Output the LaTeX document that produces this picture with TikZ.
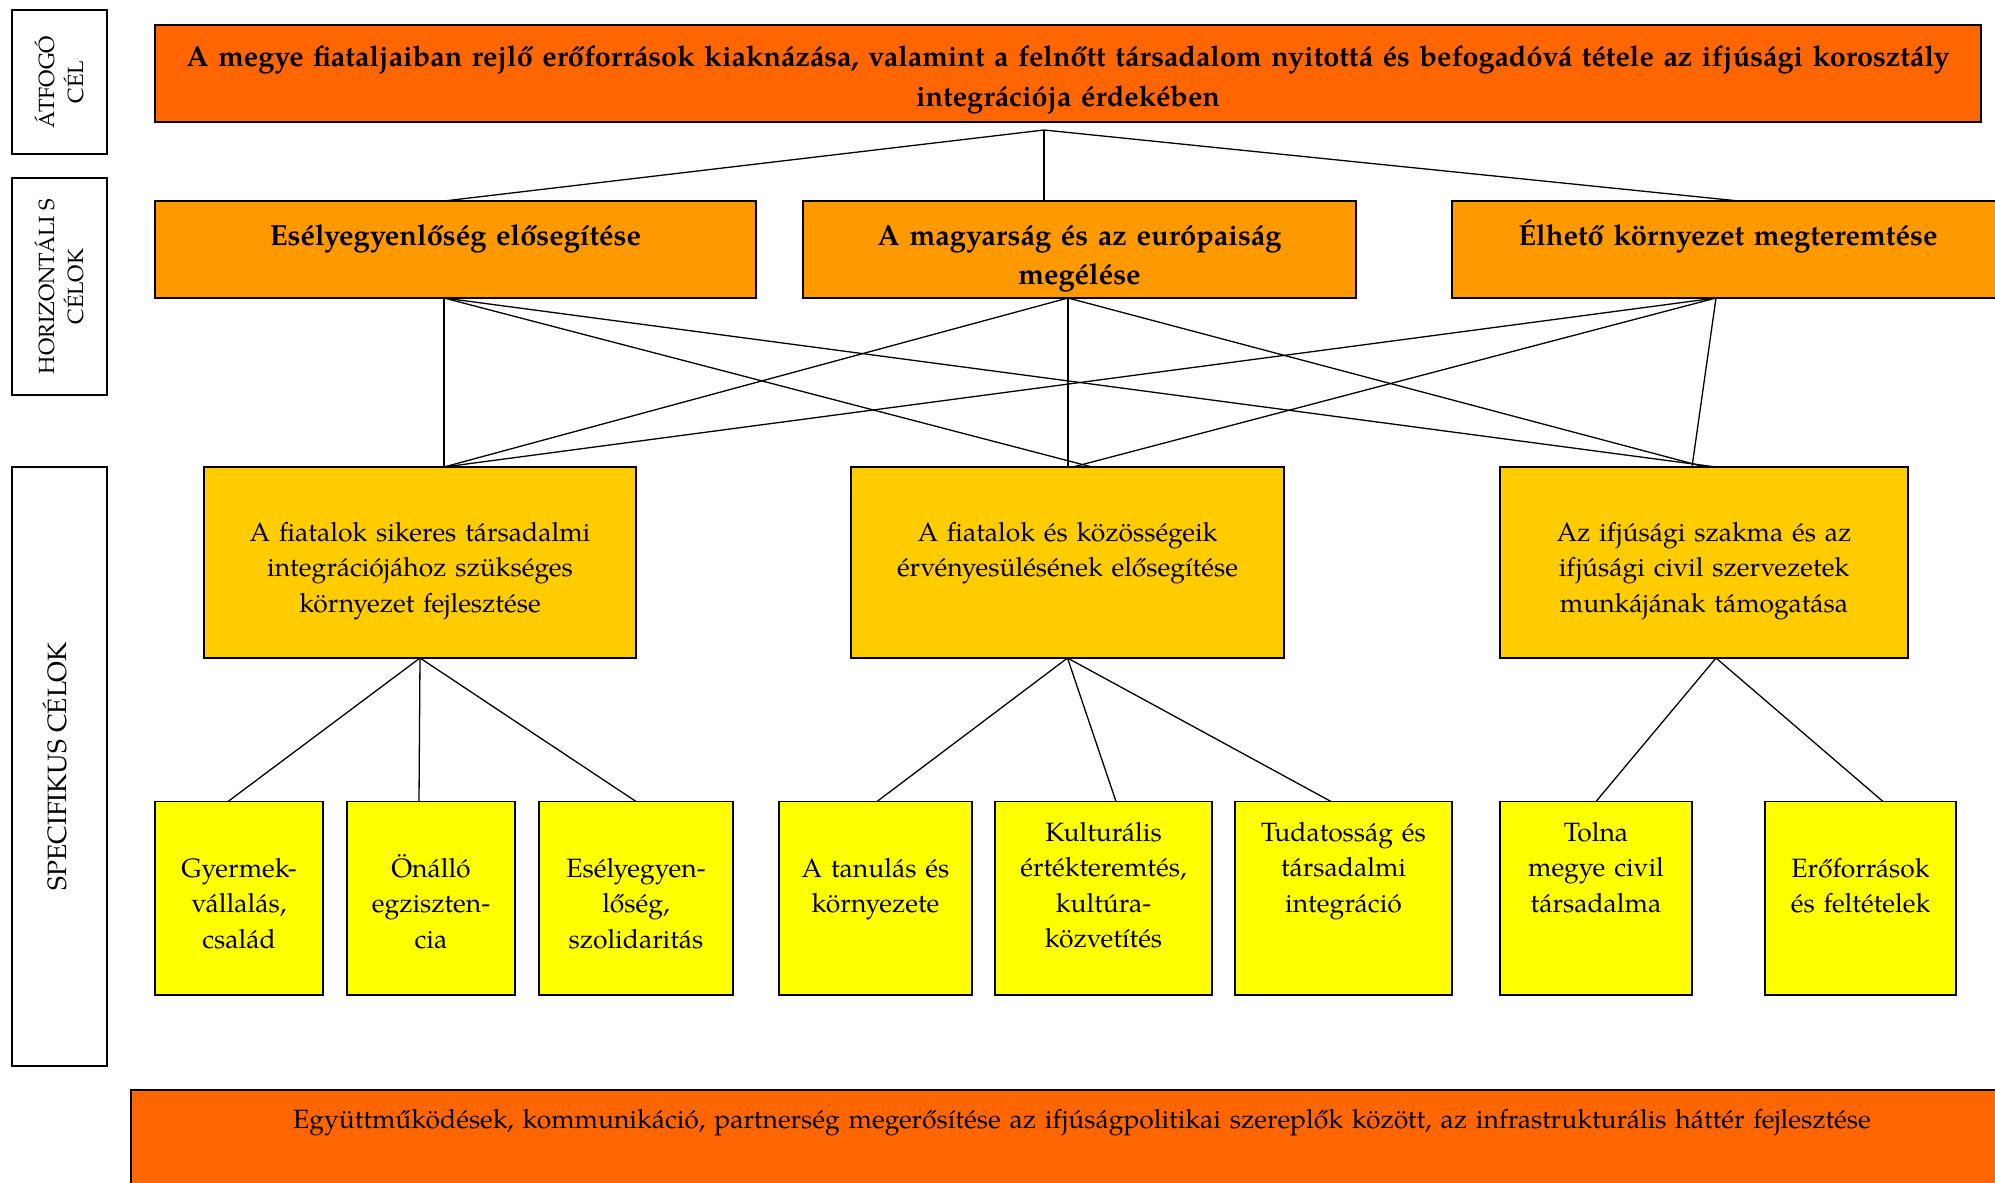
\documentclass[tikz,border=0pt]{standalone}
\usepackage{fontspec}
\setmainfont{TeX Gyre Pagella}
\definecolor{cT}{HTML}{FF6600}
\definecolor{cH}{HTML}{FF9900}
\definecolor{cM}{HTML}{FFCC00}
\definecolor{cS}{HTML}{FFFF00}
\begin{document}
\begin{tikzpicture}[x=1pt,y=-1pt,
  every node/.style={inner sep=0pt,outer sep=0pt},
  box/.style={draw=black,line width=1.8pt,rectangle,anchor=north west},
  lab/.style={draw=black,line width=1.6pt,rectangle,anchor=north west,fill=white},
  conn/.style={draw=black,line width=1.3pt},
  rtxt/.style={anchor=base,align=center,text width=#1,font=\fontsize{26.5}{35.5}\selectfont},
  btxt/.style={anchor=base,align=center,text width=#1,font=\bfseries\fontsize{29}{39}\selectfont},
  vtxt/.style={rotate=90,align=center,font=\fontsize{22}{29}\selectfont}]
\path[use as bounding box,clip] (0,0) rectangle (1995,1183);
\fill[white] (0,0) rectangle (1995,1183);

% side labels
\node[lab,minimum width=95pt,minimum height=144pt] (L1) at (12,10) {};
\node[vtxt] (tL1) at (L1.center) {ÁTFOGÓ\\CÉL};
\node[lab,minimum width=95pt,minimum height=217pt] (L2) at (12,178) {};
\node[vtxt] (tL2) at (L2.center) {HORIZONTÁLI S\\CÉLOK};
\node[lab,minimum width=95pt,minimum height=599pt] (L3) at (12,467) {};
\node[vtxt,font=\fontsize{26.5}{30}\selectfont] (tL3) at ([xshift=-5pt]L3.center) {SPECIFIKUS CÉLOK};

% top goal
\node[box,fill=cT,minimum width=1826pt,minimum height=97pt] (T) at (155,25) {};
\node[btxt=1950pt,font=\bfseries\fontsize{28.8}{40}\selectfont] (tT) at (1068,66) {A megye fiataljaiban rejlő erőforrások kiaknázása, valamint a felnőtt társadalom nyitottá és befogadóvá tétele az ifjúsági korosztály\\integrációja érdekében};

% horizontal goals
\node[box,fill=cH,minimum width=601pt,minimum height=97pt] (H1) at (155,201) {};
\node[box,fill=cH,minimum width=553pt,minimum height=97pt] (H2) at (803,201) {};
\node[box,fill=cH,minimum width=552pt,minimum height=97pt] (H3) at (1452,201) {};
\node[btxt=640pt] (tH1) at (455.5,245) {Esélyegyenlőség elősegítése};
\node[btxt=640pt] (tH2) at (1079.5,245) {A magyarság és az európaiság\\megélése};
\node[btxt=640pt] (tH3) at (1728,245) {Élhető környezet megteremtése};

% specific goals
\node[box,fill=cM,minimum width=432pt,minimum height=191pt] (A) at (204,467) {};
\node[box,fill=cM,minimum width=433pt,minimum height=191pt] (B) at (851,467) {};
\node[box,fill=cM,minimum width=408pt,minimum height=191pt] (C) at (1500,467) {};
\node[rtxt=480pt] (tA) at (420,541) {A fiatalok sikeres társadalmi\\integrációjához szükséges\\környezet fejlesztése};
\node[rtxt=480pt] (tB) at (1067.5,541) {A fiatalok és közösségeik\\érvényesülésének elősegítése};
\node[rtxt=480pt] (tC) at (1704,541) {Az ifjúsági szakma és az\\ifjúsági civil szervezetek\\munkájának támogatása};

% small boxes
\node[box,fill=cS,minimum width=168pt,minimum height=193.5pt] (s1) at (155,801.5) {};
\node[box,fill=cS,minimum width=168pt,minimum height=193.5pt] (s2) at (347,801.5) {};
\node[box,fill=cS,minimum width=194pt,minimum height=193.5pt] (s3) at (539,801.5) {};
\node[box,fill=cS,minimum width=193pt,minimum height=193.5pt] (s4) at (779,801.5) {};
\node[box,fill=cS,minimum width=217pt,minimum height=193.5pt] (s5) at (995,801.5) {};
\node[box,fill=cS,minimum width=217pt,minimum height=193.5pt] (s6) at (1235,801.5) {};
\node[box,fill=cS,minimum width=192pt,minimum height=193.5pt] (s7) at (1500,801.5) {};
\node[box,fill=cS,minimum width=191pt,minimum height=193.5pt] (s8) at (1765,801.5) {};
\node[rtxt=260pt] (ts1) at (239,877) {Gyermek-\\vállalás,\\család};
\node[rtxt=260pt] (ts2) at (431,877) {Önálló\\egziszten-\\cia};
\node[rtxt=260pt] (ts3) at (636,877) {Esélyegyen-\\lőség,\\szolidaritás};
\node[rtxt=260pt] (ts4) at (875.5,877) {A tanulás és\\környezete};
\node[rtxt=260pt] (ts5) at (1103.5,841) {Kulturális\\értékteremtés,\\kultúra-\\közvetítés};
\node[rtxt=260pt] (ts6) at (1343.5,841) {Tudatosság és\\társadalmi\\integráció};
\node[rtxt=260pt] (ts7) at (1596,841) {Tolna\\megye civil\\társadalma};
\node[rtxt=260pt] (ts8) at (1860.5,877) {Erőforrások\\és feltételek};

% bottom bar
\node[box,fill=cT,minimum width=1899pt,minimum height=120pt] (Bot) at (131,1090) {};
\node[rtxt=1880pt] (tBot) at (1082,1128) {Együttműködések, kommunikáció, partnerség megerősítése az ifjúságpolitikai szereplők között, az infrastrukturális háttér fejlesztése};

% connectors: top goal to horizontal goals
\coordinate (J) at (1044,130);
\draw[conn] ([xshift=-11.5pt]H1.north) -- (J) -- ([xshift=11pt]H3.north);
\draw[conn] (J) -- ([xshift=-35.5pt]H2.north);

% horizontal goals to specific goals
\draw[conn] ([xshift=-11.5pt]H1.south) -- ([xshift=24pt]A.north);
\draw[conn] ([xshift=-11.5pt]H1.south) -- ([xshift=24.5pt]B.north);
\draw[conn] ([xshift=-11.5pt]H1.south) -- ([xshift=12pt]C.north);
\draw[conn] ([xshift=-11.5pt]H2.south) -- ([xshift=24pt]A.north);
\draw[conn] ([xshift=-11.5pt]H2.south) -- ([xshift=0.5pt]B.north);
\draw[conn] ([xshift=-11.5pt]H2.south) -- ([xshift=1pt]C.north);
\draw[conn] ([xshift=-12pt]H3.south) -- ([xshift=24pt]A.north);
\draw[conn] ([xshift=-12pt]H3.south) -- ([xshift=5.5pt]B.north);
\draw[conn] ([xshift=-12pt]H3.south) -- ([xshift=-12pt]C.north);

% specific goals to sub-boxes
\draw[conn] (A.south) -- ([xshift=-11pt]s1.north);
\draw[conn] (A.south) -- ([xshift=-12pt]s2.north);
\draw[conn] (A.south) -- (s3.north);
\draw[conn] (B.south) -- ([xshift=1.5pt]s4.north);
\draw[conn] (B.south) -- ([xshift=12.5pt]s5.north);
\draw[conn] (B.south) -- ([xshift=-12.5pt]s6.north);
\draw[conn] ([xshift=12pt]C.south) -- (s7.north);
\draw[conn] ([xshift=12pt]C.south) -- ([xshift=22.5pt]s8.north);
\end{tikzpicture}
\end{document}
